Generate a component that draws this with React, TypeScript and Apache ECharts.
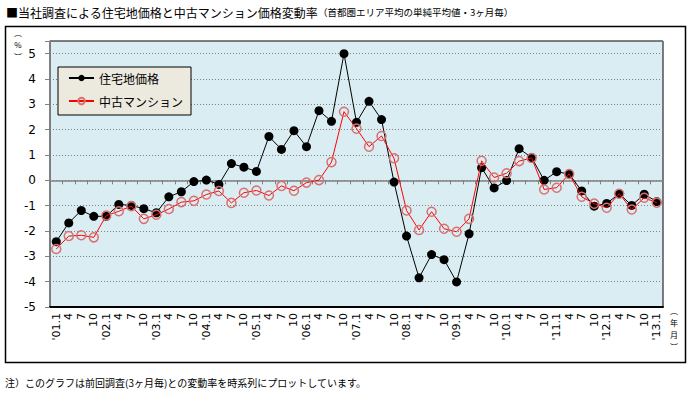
import React, { useEffect, useRef } from "react";
import * as echarts from "echarts";

const categories = [
  "'01.1", "4", "7", "10", "'02.1", "4", "7", "10", "'03.1", "4", "7", "10",
  "'04.1", "4", "7", "10", "'05.1", "4", "7", "10", "'06.1", "4", "7", "10",
  "'07.1", "4", "7", "10", "'08.1", "4", "7", "10", "'09.1", "4", "7", "10",
  "'10.1", "4", "7", "10", "'11.1", "4", "7", "10", "'12.1", "4", "7", "10",
  "'13.1",
];

const landPrice = [
  -2.42, -1.68, -1.19, -1.42, -1.42, -0.95, -0.99, -1.12, -1.28, -0.65, -0.45, -0.05,
  0.01, -0.16, 0.66, 0.52, 0.35, 1.73, 1.22, 1.96, 1.33, 2.75, 2.33, 5.0,
  2.29, 3.12, 2.4, -0.07, -2.2, -3.85, -2.93, -3.13, -4.01, -2.11, 0.5, -0.3,
  -0.01, 1.25, 0.9, 0.0, 0.34, 0.25, -0.42, -1.02, -0.91, -0.53, -0.99, -0.55,
  -0.84,
];

const condoPrice = [
  -2.71, -2.2, -2.17, -2.25, -1.39, -1.22, -1.02, -1.52, -1.36, -1.13, -0.86, -0.81,
  -0.56, -0.42, -0.89, -0.49, -0.4, -0.6, -0.22, -0.41, -0.09, 0.01, 0.72, 2.71,
  2.04, 1.33, 1.75, 0.87, -1.19, -1.96, -1.24, -1.91, -2.03, -1.52, 0.77, 0.11,
  0.28, 0.76, 0.88, -0.36, -0.29, 0.25, -0.65, -0.92, -1.08, -0.53, -1.15, -0.69,
  -0.88,
];

const seriesNames = ["住宅地価格", "中古マンション"];
const titleMain = "■当社調査による住宅地価格と中古マンション価格変動率";
const titleSub = "（首都圏エリア平均の単純平均値・3ヶ月毎）";
const noteText = "注）このグラフは前回調査(3ヶ月毎)との変動率を時系列にプロットしています。";
const yUnit = "︵\n%\n︶";
const xUnit = "︵\n年\n月\n︶";

const JP = "'Noto Sans CJK JP', 'Noto Sans', sans-serif";

export default function App() {
  const ref = useRef<HTMLDivElement>(null);
  useEffect(() => {
    if (!ref.current) return;
    const chart = echarts.init(ref.current, undefined, { renderer: "svg" });
    chart.setOption({
      animation: false,
      backgroundColor: "#ffffff",
      textStyle: { fontFamily: JP },
      grid: {
        left: 50,
        right: 31,
        top: 41,
        bottom: 89,
        show: true,
        backgroundColor: "#daedf3",
        borderColor: "#000",
        borderWidth: 1,
      },
      legend: {
        orient: "vertical",
        left: 58,
        top: 67,
        data: seriesNames,
        backgroundColor: "#ece9df",
        borderColor: "#000",
        borderWidth: 1,
        borderRadius: 0,
        padding: [5, 8, 8, 10],
        itemGap: 11,
        itemWidth: 25,
        itemHeight: 8,
        textStyle: { fontSize: 12, color: "#000", fontFamily: JP },
      },
      xAxis: [
        {
          type: "category",
          data: categories,
          position: "bottom",
          boundaryGap: true,
          axisLine: { onZero: false, lineStyle: { color: "#000", width: 2 } },
          axisTick: { show: false },
          axisLabel: {
            interval: 0,
            rotate: 90,
            fontSize: 11,
            color: "#000",
            margin: 6,
            fontFamily: "'DejaVu Sans', sans-serif",
          },
          splitLine: { show: false },
        },
        {
          type: "category",
          data: categories,
          position: "top",
          boundaryGap: true,
          axisLine: { onZero: true, lineStyle: { color: "#808080", width: 1.5 } },
          axisTick: { show: true, inside: true, length: 4, interval: 0, lineStyle: { color: "#808080" } },
          axisLabel: { show: false },
          splitLine: { show: false },
        },
      ],
      yAxis: {
        type: "value",
        min: -5,
        max: 5.5,
        interval: 1,
        axisLine: { show: true, lineStyle: { color: "#808080", width: 1.5 } },
        axisTick: { show: true, length: 5, lineStyle: { color: "#808080" } },
        axisLabel: {
          fontSize: 12,
          color: "#000",
          margin: 14,
          fontFamily: "'DejaVu Sans', sans-serif",
          formatter: (v: number) => (Number.isInteger(v) ? String(v) : ""),
        },
        splitLine: { show: true, lineStyle: { color: "#808080", type: [1, 2], width: 1 } },
      },
      series: [
        {
          name: seriesNames[0],
          type: "line",
          data: landPrice,
          symbol: "circle",
          symbolSize: 9,
          lineStyle: { color: "#000", width: 1 },
          itemStyle: { color: "#000" },
          z: 3,
        },
        {
          name: seriesNames[1],
          type: "line",
          data: condoPrice,
          symbol: "circle",
          symbolSize: 9,
          lineStyle: { color: "#ff0000", width: 1 },
          itemStyle: { color: "rgba(0,0,0,0)", borderColor: "#d97070", borderWidth: 1.5 },
          z: 4,
        },
      ],
      graphic: [
        {
          type: "rect",
          shape: { x: 5.5, y: 26.5, width: 680, height: 336 },
          style: { fill: "none", stroke: "#000", lineWidth: 1.5 },
          z: 0,
        },
        {
          type: "text",
          x: 6,
          y: 3,
          style: {
            text: "{a|" + titleMain + "}{b|" + titleSub + "}",
            rich: {
              a: { fontSize: 12, fill: "#000", fontFamily: JP, lineHeight: 18 },
              b: { fontSize: 9.5, fill: "#000", fontFamily: JP, lineHeight: 18 },
            },
          },
        },
        {
          type: "text",
          x: 18,
          y: 26,
          style: { text: yUnit, fontSize: 8, lineHeight: 12, fill: "#000", fontFamily: JP, align: "center" },
        },
        {
          type: "text",
          x: 674,
          y: 304,
          style: { text: xUnit, fontSize: 8, lineHeight: 12, fill: "#000", fontFamily: JP, align: "center" },
        },
        {
          type: "text",
          x: 5,
          y: 377,
          style: { text: noteText, fontSize: 10, fill: "#000", fontFamily: JP },
        },
      ],
    });
    return () => chart.dispose();
  }, []);
  return (
    <div
      ref={ref}
      style={{ position: "absolute", left: 0, top: 0, width: 694, height: 396 }}
    />
  );
}
